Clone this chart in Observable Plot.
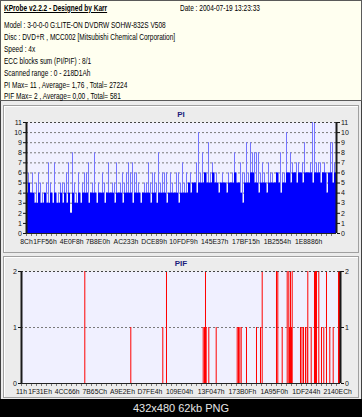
<!DOCTYPE html>
<html><head><meta charset="utf-8">
<script src="https://cdn.jsdelivr.net/npm/d3@7"></script>
<script src="https://cdn.jsdelivr.net/npm/@observablehq/plot@0.6"></script>
<style>
html,body{margin:0;padding:0;background:#000;}
#root{position:relative;width:362px;height:417px;overflow:hidden;background:#000;font-family:"Liberation Sans",Arial,sans-serif;}
#main{position:absolute;left:0;top:0;width:362px;height:399px;background:#ececec;box-sizing:border-box;border-left:1px solid #404040;border-right:1px solid #404040;}
#header{position:absolute;left:0;top:0;width:362px;height:101px;box-sizing:border-box;background:#fffff0;border:1px solid #5a5a5a;}
.hl{position:absolute;font-size:8.4px;line-height:10px;white-space:nowrap;transform:scaleX(0.78);transform-origin:0 50%;color:#000;}
.panel{position:absolute;left:3px;width:356px;box-sizing:border-box;border:1px solid #a0a0a0;box-shadow:inset 1px 1px 0 #fff;}
.ptitle{position:absolute;width:362px;left:0;text-align:center;font-weight:bold;font-size:8px;color:#1c1c7c;line-height:10px;}
.chart{position:absolute;left:0;}
#footer{position:absolute;left:0;top:399px;width:362px;height:18px;text-align:center;color:#e6e6e6;font-size:11px;line-height:18px;}
</style></head>
<body>
<div id="root">
  <div id="main"></div>
  <div id="header"></div>
  <div class="panel" style="top:105px;height:148px;"></div>
  <div class="panel" style="top:256px;height:142px;"></div>
  <div class="ptitle" id="t1" style="top:110px;"></div>
  <div class="ptitle" id="t2" style="top:259px;"></div>
  <div class="chart" id="c1" style="top:110px;"></div>
  <div class="chart" id="c2" style="top:259px;"></div>
  <div id="footer"></div>
</div>
<script>
// ---------- text ----------
const headerTitle = "KProbe v2.2.2 - Designed by Karr";
const headerDate = "Date : 2004-07-19 13:23:33";
const headerLines = [
  "Model : 3-0-0-0 G:LITE-ON DVDRW SOHW-832S  V508",
  "Disc : DVD+R , MCC002 [Mitsubishi Chemical Corporation]",
  "Speed : 4x",
  "ECC blocks sum (PI/PIF) : 8/1",
  "Scanned range : 0 - 218D1Ah",
  "PI Max= 11 , Average= 1,76 , Total= 27224",
  "PIF Max= 2 , Average= 0,00 , Total= 581"
];
const piTitle = "PI";
const pifTitle = "PIF";
const footerText = "432x480 62kb PNG";

// ---------- axes ----------
const rangeEndHex = "218D1A";
const piXTickLabels = ["8Ch","1FF56h","4E0F8h","7B8E0h","AC233h","DCE89h","10FDF9h","145E37h","17BF15h","1B2554h","1E8886h"];
const pifXTickLabels = ["11h","1F31Eh","4CC66h","7B65Ch","A9E2Eh","D7FE4h","109E04h","13F047h","173B0Fh","1A95F0h","1DF244h","2140ECh"];
const piYTicks = [0,1,2,3,4,5,6,7,8,9,10,11];
const pifYTicks = [0,1,2];

// ---------- PI data (per sample) ----------
const piPeak = [
 5,6,4,6,4,5,6,5,4,4, 5,7,5,4,7,4,4,5,5,5, 6,7,2,8,5,4,6,4,5,6,
 6,7,4,5,8,4,5,4,6,5, 4,7,4,5,5,7,4,5,6,5, 6,7,6,7,6,6,5,4,4,5,
 5,7,5,6,6,5,8,5,6,6, 6,4,6,5,4,6,6,5,7,5, 6,5,6,5,5,7,10,6,8,6,
 6,9,6,7,6,6,5,5,6,5, 5,6,5,6,8,6,5,7,6,6, 9,6,9,8,8,8,8,6,7,6,
 5,7,6,6,5,6,6,8,6,6, 10,6,8,7,6,7,7,6,7,9, 6,6,7,11,11,7,7,7,6,7,
 6,5,9,9,7
];
const piBase = [
 4,5,4,4,3,
 3,4,3,3,4,3,3,4,3,4,3,3,4,3,4,3,4,2,4,3,3,4,3,4,
 4,4,3,4,4,4,3,4,4,4,3,4,4,4,4,3,4,4,4,3,4,4,4,4,3,4,4,4,3,4,4,4,4,3,4,4,3,4,4,4,4,3,4,4,4,4,4,3,4,4,4,
 4,5,4,5,5,4,
 5,5,5,6,5,5,5,6,5,5,4,5,5,5,4,5,5,5,6,5,5,4,
 3,
 5,5,5,6,6,5,5,4,5,5,5,4,5,5,5,5,6,5,4,5,5,6,
 6,5,6,6,5,6,6,5,6,6,6,6,5,6,6,6,5,6,6,4,6,6,5,6
];

// ---------- PIF data (address, value) ----------
const pifAddr = [436314,753383,973953,999456,1252422,1261382,1268275,1273100,1291021,1342028,
 1486777,1495738,1504698,1514348,1550880,1619808,1647379,1659097,1757664,1766625,
 1796953,1831417,1842445,1847270,1854163,1861056,1865881,1923091,1933430,1943770,
 1957555,1969273,1973409,1996844,2019590,2026483,2033376,2049229,2067840,2083693,
 2102304,2125050,2148486,2185018,2191910];
const pifVal = [2,1,1,2,1,1,2,1,1,1,
 1,1,1,1,1,1,1,2,2,2,
 1,2,2,1,2,1,2,1,1,1,
 1,1,2,1,2,2,2,2,1,1,
 2,1,1,2,2];

// ---------- HTML text ----------
const hdr = document.getElementById("header");
function addLine(txt, x, cy, extra) {
  const d = document.createElement("div");
  d.className = "hl"; d.textContent = txt;
  d.style.left = x + "px"; d.style.top = (cy - 5 - 1) + "px";
  if (extra) Object.assign(d.style, extra);
  hdr.appendChild(d);
}
addLine(headerTitle, 3, 7.5, {fontWeight:"bold", textDecoration:"underline"});
addLine(headerDate, 179, 7.5);
const rowsY = [25, 37, 49, 61, 73, 85, 96];
headerLines.forEach((t, i) => addLine(t, 3, rowsY[i]));
document.getElementById("t1").textContent = piTitle;
document.getElementById("t2").textContent = pifTitle;
document.getElementById("footer").textContent = footerText;

// ---------- charts ----------
const D = parseInt(rangeEndHex, 16);
const hexVal = s => parseInt(s.replace(/h$/, ""), 16);
const N = piPeak.length;
const piRows = piPeak.map((p, i) => ({a0: i * D / N, a1: (i + 1) * D / N, peak: p, base: piBase[i]}));
const pifRows = pifAddr.map((a, i) => ({addr: a, val: pifVal[i]}));

function xAxisMarks(labels) {
  const vals = labels.map(hexVal);
  const lab = new Map(vals.map((v, i) => [v, labels[i]]));
  return Plot.axisX({ticks: vals, tickFormat: d => lab.get(d), tickSize: 0, tickPadding: 5.5, fontSize: 6.8, label: null});
}
const yStyle = {tickSize: 3, tickPadding: 1.5, fontSize: 7, tickFormat: d => String(d), label: null};
const common = {
  width: 362,
  style: {fontFamily: "Liberation Sans, Arial, sans-serif", fontSize: "7px", background: "transparent", color: "#111", overflow: "visible"},
};

const pi = Plot.plot({
  ...common,
  height: 140, marginTop: 12, marginBottom: 17, marginLeft: 26, marginRight: 26,
  x: {domain: [0, D], label: null},
  y: {domain: [0, 11], label: null},
  marks: [
    Plot.frame({fill: "#f0f0ff", stroke: null}),
    Plot.gridY(piYTicks.slice(1, -1), {stroke: "#7a7a7a", strokeOpacity: 1, strokeDasharray: "2,2"}),
    Plot.rect(piRows, {x1: "a0", x2: "a1", y1: 0, y2: "peak", fill: "#7474ff", insetRight: 1}),
    Plot.rect(piRows, {x1: "a0", x2: "a1", y1: 0, y2: "base", fill: "#0000ff"}),
    Plot.ruleY([11], {stroke: "#444", strokeDasharray: "2,2"}),
    Plot.ruleY([0], {stroke: "#222"}),
    Plot.ruleY([0], {stroke: "#555", strokeWidth: 1.5, strokeDasharray: "1,4", dy: 1.5}),
    Plot.ruleX([0], {stroke: "#1a1a1a", strokeWidth: 2}),
    Plot.ruleX([D], {stroke: "#1a1a1a", strokeWidth: 2}),
    Plot.axisY({...yStyle, ticks: piYTicks, anchor: "left"}),
    Plot.axisY({...yStyle, ticks: piYTicks, anchor: "right"}),
    xAxisMarks(piXTickLabels)
  ]
});
document.getElementById("c1").appendChild(pi);

const pif = Plot.plot({
  ...common,
  height: 140, marginTop: 12, marginBottom: 16, marginLeft: 21, marginRight: 22,
  x: {domain: [0, D], label: null},
  y: {domain: [0, 2], label: null},
  marks: [
    Plot.frame({fill: "#f0f0ff", stroke: null}),
    Plot.gridY([1], {stroke: "#7a7a7a", strokeOpacity: 1, strokeDasharray: "2,2"}),
    Plot.ruleX(pifRows, {x: "addr", y1: 0, y2: "val", stroke: "#ff0000", strokeWidth: 1}),
    Plot.ruleY([2], {stroke: "#444", strokeDasharray: "2,2"}),
    Plot.ruleY([0], {stroke: "#222"}),
    Plot.ruleY([0], {stroke: "#555", strokeWidth: 1.5, strokeDasharray: "1,4", dy: 1.5}),
    Plot.ruleX([0], {stroke: "#1a1a1a", strokeWidth: 2}),
    Plot.ruleX([D], {stroke: "#1a1a1a", strokeWidth: 2}),
    Plot.axisY({...yStyle, ticks: pifYTicks, anchor: "left"}),
    Plot.axisY({...yStyle, ticks: pifYTicks, anchor: "right"}),
    xAxisMarks(pifXTickLabels)
  ]
});
document.getElementById("c2").appendChild(pif);
</script>
</body></html>
